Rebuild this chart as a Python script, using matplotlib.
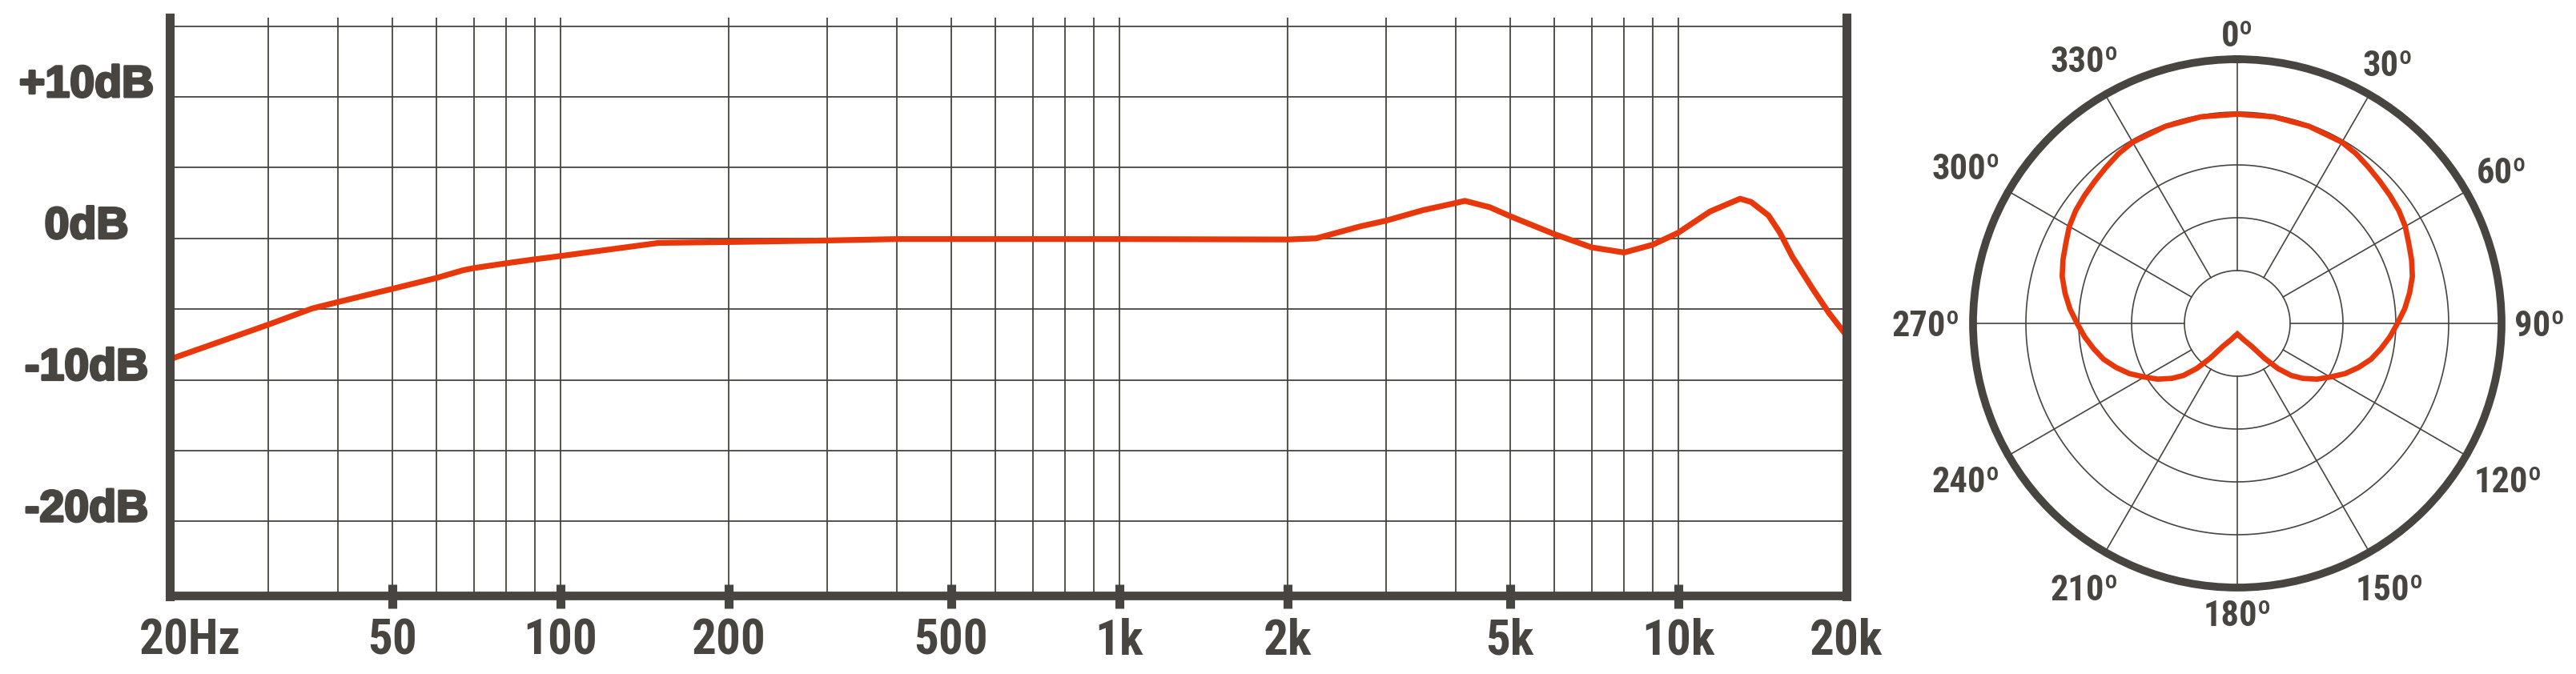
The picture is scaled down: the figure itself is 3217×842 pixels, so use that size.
"""
Microphone spec sheet graphic: frequency response (log axis, 20 Hz - 20 kHz)
plus a cardioid polar pattern on the right.
"""
import numpy as np
import matplotlib
matplotlib.use("Agg")
import matplotlib.pyplot as plt
import matplotlib.transforms as mtransforms
import matplotlib.patheffects as pe
from matplotlib import font_manager as fm
from matplotlib.ticker import FixedLocator, NullLocator, NullFormatter

INK = "#48443f"
RED = "#e8380b"

# ---- Data ---------------------------------------------------------------
FREQ_HZ = [20, 30, 36, 40, 50, 60, 67, 70, 80, 90, 100, 150, 200, 300,
           400, 1000, 2000, 2250, 2700, 3000, 3500, 4000, 4150, 4600,
           5000, 6000, 7000, 8000, 9000, 10000, 10500, 11400, 12900,
           13500, 14500, 15200, 16000, 17400, 18600, 20000]
RESPONSE_DB = [-8.55, -6.1, -4.95, -4.5, -3.57, -2.8, -2.25, -2.1, -1.76,
               -1.48, -1.25, -0.32, -0.26, -0.15, -0.05, -0.05, -0.08, 0.0,
               0.85, 1.25, 2.0, 2.5, 2.65, 2.2, 1.57, 0.3, -0.64, -1.0,
               -0.45, 0.4, 0.96, 1.9, 2.8, 2.57, 1.62, 0.4, -1.3, -3.57,
               -5.27, -6.87]

DB_LABELS = ["+10dB", "0dB", "-10dB", "-20dB"]
DB_LABEL_VALUES = [10, 0, -10, -20]
GRID_DB = [-25, -20, -15, -10, -5, 0, 5, 10, 15]

FREQ_LABELS = ["20Hz", "50", "100", "200", "500", "1k", "2k", "5k", "10k", "20k"]
FREQ_LABEL_VALUES = [20, 50, 100, 200, 500, 1000, 2000, 5000, 10000, 20000]
TICK_FREQS = [50, 100, 200, 500, 1000, 2000, 5000, 10000]
GRID_FREQS = [30, 40, 50, 60, 70, 80, 90, 100,
              200, 300, 400, 500, 600, 700, 800, 900, 1000,
              2000, 3000, 4000, 5000, 6000, 7000, 8000, 9000, 10000]

# polar pattern, right half (ring units, outer ring = 5); left half mirrors
POLAR_ANGLES_DEG = [0, 10, 20, 30, 35, 40, 45, 50, 55, 60, 65, 70, 75, 80,
                    85, 90, 95, 100, 105, 110, 115, 120, 125, 130, 134, 138,
                    142, 148, 159, 170, 180]
POLAR_R = [3.96, 3.97, 3.97, 3.96, 3.92, 3.86, 3.81, 3.77, 3.73, 3.67, 3.58,
           3.51, 3.43, 3.31, 3.18, 3.03, 2.90, 2.76, 2.62, 2.44, 2.25, 2.03,
           1.84, 1.62, 1.42, 1.15, 0.84, 0.51, 0.33, 0.24, 0.20]
POLAR_RINGS = [1, 2, 3, 4]
POLAR_SPOKES_DEG = list(range(0, 360, 30))
POLAR_LABELS = [f"{a}\u00ba" for a in POLAR_SPOKES_DEG]


# ---- Fonts --------------------------------------------------------------
def condensed_bold():
    prefs = ["roboto condensed", "liberation sans narrow", "dejavu sans",
             "noto sans", "open sans"]
    best, best_key = None, None
    for f in fm.fontManager.ttflist:
        nm = f.name.lower()
        st = str(f.stretch).lower()
        narrow = ("condensed" in nm or "narrow" in nm or "condensed" in st)
        if isinstance(f.stretch, (int, float)) and f.stretch < 500:
            narrow = True
        if not narrow or "extra" in st or "ultra" in st:
            continue
        w = f.weight if isinstance(f.weight, (int, float)) else fm.weight_dict.get(f.weight, 400)
        if w < 600:
            continue
        rank = next((i for i, p in enumerate(prefs) if nm.startswith(p)), 9)
        key = (f.style != "normal", abs(w - 700), rank)
        if best_key is None or key < best_key:
            best, best_key = f, key
    if best is None:
        return fm.FontProperties(family="Roboto", weight="bold")
    return fm.FontProperties(fname=best.fname)


FP_COND = condensed_bold()
FP_WIDE = fm.FontProperties(family="Liberation Sans", weight="bold")


def fp(base, size):
    p = base.copy()
    p.set_size(size)
    return p


# ---- Figure -------------------------------------------------------------
W, H = 3217, 842
fig = plt.figure(figsize=(W / 100, H / 100), dpi=100)
fig.patch.set_facecolor("white")

# frequency response panel: x 212..2306 px, y 22..745 px
ax = fig.add_axes([212 / W, (H - 745) / H, (2306 - 212) / W, (745 - 22) / H])
ax.set_xscale("log")
ax.set_xlim(20, 20000)
ax.set_ylim(-25.3, 15.6)

for v in GRID_DB:
    ax.axhline(v, color=INK, lw=1.3, zorder=1)
for f in GRID_FREQS:
    ax.axvline(f, color=INK, lw=1.3, zorder=1)

ax.plot(FREQ_HZ, RESPONSE_DB, color=RED, lw=5.2, solid_joinstyle="round",
        solid_capstyle="round", zorder=3)

ax.spines["top"].set_visible(False)
for side, lw in (("left", 8), ("right", 8), ("bottom", 7)):
    ax.spines[side].set_linewidth(lw)
    ax.spines[side].set_color(INK)
    ax.spines[side].set_capstyle("projecting")
    ax.spines[side].set_zorder(4)

ax.xaxis.set_major_locator(FixedLocator(TICK_FREQS))
ax.xaxis.set_minor_locator(NullLocator())
ax.xaxis.set_major_formatter(NullFormatter())
ax.xaxis.set_minor_formatter(NullFormatter())
ax.tick_params(axis="x", direction="inout", length=21, width=8, color=INK,
               labelbottom=False)
ax.set_yticks([])

# y labels: baseline sits on the grid line
heavy = [pe.withStroke(linewidth=2.2, foreground=INK)]
ytrans = mtransforms.blended_transform_factory(fig.transFigure, ax.transData)
for lab, v in zip(DB_LABELS, DB_LABEL_VALUES):
    ax.text(108 / W, v, lab, transform=ytrans, ha="center", va="baseline",
            fontproperties=fp(FP_WIDE, 40), color=INK, path_effects=heavy)

# x labels
xtrans = mtransforms.blended_transform_factory(ax.transData, fig.transFigure)
for lab, f in zip(FREQ_LABELS, FREQ_LABEL_VALUES):
    tr = xtrans
    if lab == "20Hz":
        tr = mtransforms.offset_copy(xtrans, fig=fig, x=25, units="dots")
    ax.text(f, (H - 818) / H, lab, transform=tr, ha="center", va="baseline",
            fontproperties=fp(FP_COND, 44), color=INK)

# ---- Polar pattern ------------------------------------------------------
cx, cy, R = 2794, 404, 330
axp = fig.add_axes([(cx - R) / W, (H - cy - R) / H, 2 * R / W, 2 * R / H],
                   projection="polar")
axp.set_theta_zero_location("N")
axp.set_theta_direction(-1)
axp.set_ylim(0, 5)
axp.grid(False)
axp.set_xticks([])
axp.set_yticks([])
axp.set_facecolor("none")
axp.spines["polar"].set_linewidth(7)
axp.spines["polar"].set_color(INK)

ring_t = np.linspace(0, 2 * np.pi, 721)
for r in POLAR_RINGS:
    axp.plot(ring_t, np.full_like(ring_t, r), color=INK, lw=1.2, zorder=1)
for a in POLAR_SPOKES_DEG:
    axp.plot([np.deg2rad(a)] * 2, [1, 5], color=INK, lw=1.2, zorder=1)

ang = np.array(POLAR_ANGLES_DEG, dtype=float)
rr = np.array(POLAR_R)
theta = np.deg2rad(np.r_[ang, 360 - ang[-2::-1]])
rad = np.r_[rr, rr[-2::-1]]
axp.plot(theta, rad, color=RED, lw=4.8, solid_joinstyle="miter", zorder=3)

# angle labels: fixed gap between the outer ring and each label's box
POLAR_FS = 32
cap = 0.711 * POLAR_FS * 100 / 72
renderer = fig.canvas.get_renderer()
for a, lab in zip(POLAR_SPOKES_DEG, POLAR_LABELS):
    t = fig.text(0, 0, lab, ha="center", va="baseline",
                 fontproperties=fp(FP_COND, POLAR_FS), color=INK)
    w = t.get_window_extent(renderer).width
    s, c = np.sin(np.deg2rad(a)), np.cos(np.deg2rad(a))
    d = 346 + abs(s) * w / 2 + abs(c) * cap / 2
    px, py = cx + d * s, (H - cy) + d * c
    t.set_position((px / W, (py - cap / 2) / H))

fig.savefig("out.png", dpi=100, facecolor="white")
